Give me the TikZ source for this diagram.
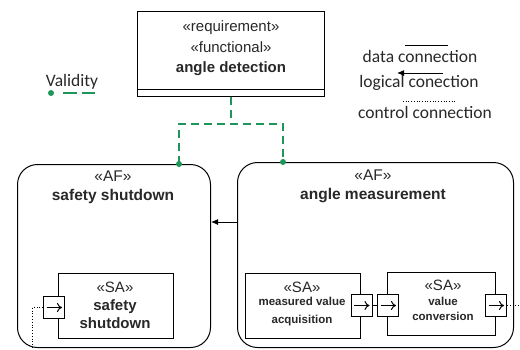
\documentclass[tikz,border=0pt]{standalone}
\usepackage{fontspec}
\setmainfont{Liberation Sans}
\newfontfamily\legendfont{Carlito}
\usetikzlibrary{arrows.meta}
\definecolor{valgreen}{RGB}{30,150,90}
\definecolor{txt}{RGB}{40,40,40}
\tikzset{
  reqbox/.style={draw, line width=1pt, minimum width=187pt, minimum height=85pt, anchor=north west, inner sep=0pt},
  afbox/.style={draw, line width=1pt, rounded corners=20pt, anchor=north west, inner sep=0pt},
  sabox/.style={draw, line width=1pt, anchor=north west, inner sep=0pt, fill=white},
  portbox/.style={draw, line width=1pt, minimum width=21pt, minimum height=22pt, inner sep=0pt, fill=white},
  lbl/.style={text=txt, align=center, inner sep=0pt},
  valline/.style={draw=valgreen, line width=1.2pt, dash pattern=on 8pt off 5pt},
  valdot/.style={fill=valgreen},
  legtxt/.style={text=txt, inner sep=0pt, font=\legendfont\fontsize{17.5}{20}\selectfont},
  portarrow/.style={-{To[length=5pt,width=9pt]}, line width=1pt},
}
\begin{document}
\begin{tikzpicture}[x=1pt,y=-1pt]
\useasboundingbox (0,0) rectangle (520,349);

% requirement
\node[reqbox] (req) at (137,11) {};
\draw[line width=1pt] ([yshift=8pt]req.south west) -- ([yshift=8pt]req.south east);
\node[lbl, font=\fontsize{15}{20.5}\selectfont] (reqtxt) at (231,48.5) {«requirement»\\«functional»\\\textbf{angle detection}};

% AF boxes
\node[afbox, minimum width=193pt, minimum height=183pt] (ss) at (17,164) {};
\node[afbox, minimum width=276pt, minimum height=185pt] (am) at (237,162) {};
\node[lbl, font=\fontsize{15.5}{19}\selectfont] (sstxt) at (113,187.5) {«AF»\\\textbf{safety shutdown}};
\node[lbl, font=\fontsize{15.5}{19}\selectfont] (amtxt) at (373,186) {«AF»\\\textbf{angle measurement}};

% SA boxes
\node[sabox, minimum width=115pt, minimum height=65pt] (sa1) at (58,273) {};
\node[sabox, minimum width=115pt, minimum height=65pt] (sa2) at (245,273) {};
\node[sabox, minimum width=108pt, minimum height=63pt] (sa3) at (387,272) {};
\node[lbl, font=\fontsize{15}{18}\selectfont] (sa1t) at (115,305) {«SA»\\\textbf{safety}\\\textbf{shutdown}};
\node[lbl, font=\fontsize{15}{18}\selectfont] (sa2a) at (302,287) {«SA»};
\node[lbl, font=\fontsize{11.5}{18}\selectfont] (sa2b) at (302,312) {\textbf{measured value}\\\textbf{acquisition}};
\node[lbl, font=\fontsize{15}{18}\selectfont] (sa3a) at (443,285) {«SA»};
\node[lbl, font=\fontsize{11.5}{15}\selectfont] (sa3b) at (443,308.5) {\textbf{value}\\\textbf{conversion}};

% ports
\node[portbox] (p1) at (54,307.5) {};
\node[portbox] (p2) at (361.5,305.5) {};
\node[portbox] (p3) at (388,305.5) {};
\node[portbox] (p4) at (496,305.5) {};
\foreach \p in {p1,p2,p3,p4}{
  \draw[portarrow] ([xshift=3.5pt]\p.west) -- ([xshift=-3pt]\p.east);
}

% connections between ports
\draw[line width=1pt] (p2.east) -- (p3.west);
\coordinate (pr) at (520,305.5);
\draw[dotted, line width=0.8pt] (p4.east) -- (pr);
\coordinate (pl1) at (32,307.5);
\coordinate (pl2) at (32,349);
\draw[dotted, line width=0.8pt] (p1.west) -- (pl1) -- (pl2);

% logical arrow
\coordinate (ay) at (0,222);
\draw[line width=1pt, -{Latex[length=7pt,width=6pt]}] (am.west |- ay) -- (ss.east |- ay);

% validity tree
\coordinate (jy) at (0,124);
\coordinate (vl) at (179,164);
\coordinate (vr) at (283,162);
\draw[valline] (req.south) -- (req.south |- jy);
\draw[valline] (vl) |- (vr |- jy) -- (vr);
\fill[valdot] (vl) circle (3pt);
\fill[valdot] (vr) circle (3pt);

% legend left
\node[legtxt] (vtxt) at (72,82) {Validity};
\coordinate (vd1) at (51,93);
\coordinate (vd2) at (96,93);
\draw[valline, dash pattern=on 0pt off 12pt on 14pt off 5pt on 13pt off 20pt] (vd1) -- (vd2);
\fill[valdot] (vd1) circle (3pt);

% legend right
\node[legtxt] (ldata) at (420,56) {data connection};
\node[legtxt] (llog) at (419,83) {logical conection};
\node[legtxt] (lctl) at (425,112) {control connection};
\coordinate (d1) at (405,45); \coordinate (d2) at (448,45);
\draw[line width=1pt] (d1) -- (d2);
\coordinate (l1) at (443,73); \coordinate (l2) at (397,73);
\draw[line width=1pt, -{Latex[length=7pt,width=6pt]}] (l1) -- (l2);
\coordinate (c1) at (403,101); \coordinate (c2) at (455,101);
\draw[dotted, line width=0.7pt] (c1) -- (c2);
\end{tikzpicture}
\end{document}
